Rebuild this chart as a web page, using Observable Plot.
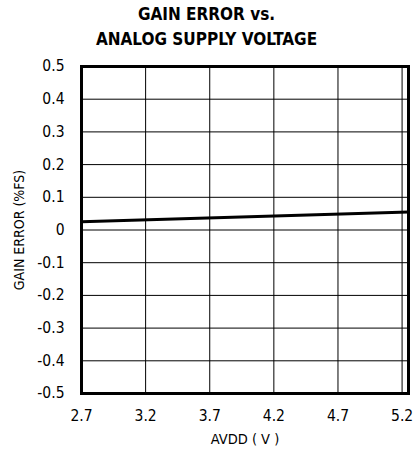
<!DOCTYPE html>
<html><head><meta charset="utf-8">
<script src="https://cdn.jsdelivr.net/npm/d3@7"></script>
<script src="https://cdn.jsdelivr.net/npm/@observablehq/plot@0.6"></script>
<style>
body{margin:0;background:#fff;}
#title{width:413px;height:52px;text-align:center;font-family:"Liberation Sans Narrow","DejaVu Sans Condensed",sans-serif;font-weight:bold;font-size:17px;line-height:25px;padding-top:2px;box-sizing:border-box;color:#000;}
</style></head><body>
<div id="title">GAIN ERROR vs.<br>ANALOG SUPPLY VOLTAGE</div>
<div id="chart"></div>
<script>
const avdd = [2.7, 5.25];
const gainError = [0.025, 0.055];
const xTicks = [2.7, 3.2, 3.7, 4.2, 4.7, 5.2];
const yTicks = [0.5, 0.4, 0.3, 0.2, 0.1, 0, -0.1, -0.2, -0.3, -0.4, -0.5];
const data = avdd.map((v, i) => ({x: v, y: gainError[i]}));
const fmt = d => d === 0 ? "0" : String(d);
const chart = Plot.plot({
  width: 413, height: 404,
  marginLeft: 81, marginRight: 5, marginTop: 14, marginBottom: 63,
  style: {fontFamily: '"Liberation Sans Narrow","DejaVu Sans Condensed",sans-serif', fontSize: "14px", color: "#000", background: "#fff"},
  x: {domain: [2.7, 5.25]},
  y: {domain: [-0.5, 0.5]},
  marks: [
    Plot.gridX(xTicks.slice(1), {stroke: "#000", strokeOpacity: 1, strokeWidth: 1}),
    Plot.gridY(yTicks, {stroke: "#000", strokeOpacity: 1, strokeWidth: 1}),
    Plot.line(data, {x: "x", y: "y", stroke: "#000", strokeWidth: 3}),
    Plot.frame({stroke: "#000", strokeWidth: 3}),
    Plot.axisX({ticks: xTicks, tickFormat: fmt, tickSize: 0, tickPadding: 16, label: null, fontSize: 15.5}),
    Plot.axisX({ticks: [], label: "AVDD ( V )", labelAnchor: "center", labelArrow: "none", labelOffset: 50, fontSize: 14.5}),
    Plot.axisY({ticks: yTicks, tickFormat: fmt, tickSize: 0, tickPadding: 17, label: null, fontSize: 15.5}),
    Plot.axisY({ticks: [], label: "GAIN ERROR (%FS)", labelAnchor: "center", labelArrow: "none", labelOffset: 67, fontSize: 14})
  ]
});
document.getElementById("chart").appendChild(chart);
</script>
</body></html>
